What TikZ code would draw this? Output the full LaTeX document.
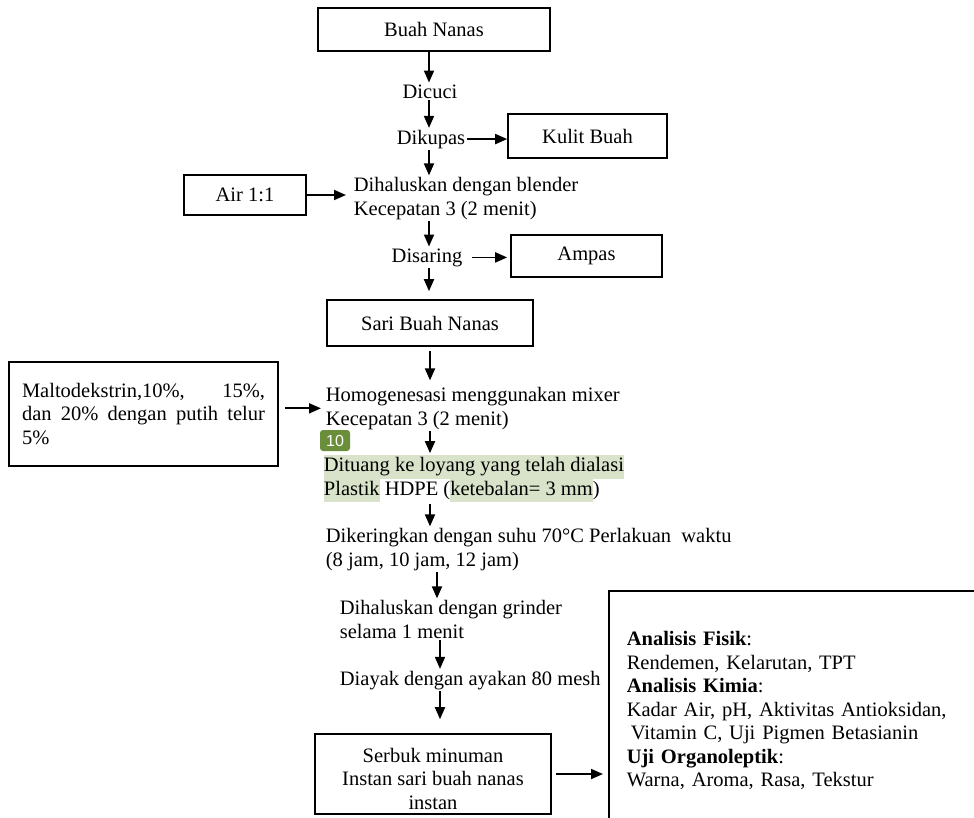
\documentclass[tikz,border=0pt]{standalone}
\usepackage{fontspec}
\setmainfont{Liberation Serif}
\setsansfont{Liberation Sans}
\usetikzlibrary{arrows.meta}
\definecolor{hilite}{HTML}{D9E3CA}
\definecolor{badgegreen}{HTML}{6B8E3A}
\newcommand{\hl}[1]{{\setlength{\fboxsep}{0pt}\colorbox{hilite}{\strut #1}}}

\begin{document}
\begin{tikzpicture}[x=1pt, y=-1pt, ->, >={Triangle[length=12pt,width=10pt]}, line width=1.8pt,
		font=\fontsize{20.5}{23.5}\selectfont]
		\tikzstyle{every node}=[inner sep=1pt]
		\tikzstyle{box}=[draw, line width=1.6pt, inner sep=0pt]
		\tikzstyle{proc}=[anchor=base west, align=left]
		\useasboundingbox (0,0) rectangle (974,817);
		\clip (0,0) rectangle (974,817);
		% columns of the vertical arrows
		\coordinate (c1) at (429,0);
		\coordinate (c2) at (430,0);
		\coordinate (c3) at (437,0);
		\coordinate (c4) at (440,0);

		% multi-line nodes sit on the baseline of their last line
		\node[box, minimum width=232pt, minimum height=43pt] (buah) at (434,29.5) {Buah Nanas};
		\node[anchor=base] (dicuci) at (430,98) {Dicuci};
		\node[anchor=base] (dikupas) at (431,144) {Dikupas};
		\node[box, minimum width=159pt, minimum height=44pt] (kulit) at (587.5,136) {Kulit Buah};
		\node[proc] (blender) at (352,215) {Dihaluskan dengan blender\\Kecepatan 3 (2 menit)};
		\node[box, minimum width=122pt, minimum height=40pt] (air) at (245,195) {Air 1:1};
		\node[anchor=base] (disaring) at (427,262) {Disaring};
		\node[box, minimum width=151pt, minimum height=42pt] (ampas) at (586.5,256) {\raisebox{-3pt}{Ampas}};
		\node[box, minimum width=206pt, minimum height=46pt] (sari) at (430,323) {Sari Buah Nanas};
		\node[proc] (mixer) at (324,425) {Homogenesasi menggunakan mixer\\Kecepatan 3 (2 menit)};
		\node[box, minimum width=269pt, minimum height=104pt, text width=243pt, align=left]
			(malto) at (143.5,414) {Maltodekstrin,10\%,\hfill 15\%,\\
			dan\hfill 20\%\hfill dengan\hfill putih\hfill telur\\
			5\%};
		\node[proc] (loyang) at (322,495) {\hl{Dituang ke loyang yang telah dialasi}\\
			\hl{Plastik} HDPE (\hl{ketebalan= 3 mm})};
		\node[fill=badgegreen, text=white, rounded corners=3pt, minimum width=30pt, minimum height=21pt,
			font=\sffamily\fontsize{16}{18}\selectfont] (nomor) at (335,440.5) {10};
		\node[proc] (kering) at (324,566) {Dikeringkan dengan suhu 70°C Perlakuan~ waktu\\(8 jam, 10 jam, 12 jam)};
		\node[proc] (grinder) at (338,638) {Dihaluskan dengan grinder\\selama 1 menit};
		\node[proc] (ayak) at (338,685) {Diayak dengan ayakan 80 mesh};
		\node[box, minimum width=236pt, minimum height=80pt] (serbuk) at (433,774) {};
		\node[anchor=base, align=center] (serbuktxt) at (433,809) {Serbuk minuman\\Instan sari buah nanas\\instan};
		\node[box, anchor=north west, minimum width=392pt, minimum height=240pt, text width=356pt,
			inner xsep=18pt, align=left] (analisis) at (608,590) {\textbf{Analisis Fisik}:\\
			Rendemen, Kelarutan, TPT\\
			\textbf{Analisis Kimia}:\\
			Kadar Air, pH, Aktivitas Antioksidan,\\
			\hspace*{4pt}Vitamin C, Uji Pigmen Betasianin\\
			\textbf{Uji Organoleptik}:\\
			Warna, Aroma, Rasa, Tekstur};

		\path (buah.south -| c1) edge (dicuci.north -| c1);
		\path (dicuci.south -| c1) edge (dikupas.north -| c1);
		\path (dikupas.east) edge (dikupas.east -| kulit.west);
		\path (dikupas.south -| c1) edge (blender.north -| c1);
		\path (air.east) edge[shorten >=6pt] (air.east -| blender.west);
		\path (blender.south -| c1) edge (disaring.north -| c1);
		\path (disaring.east) edge[shorten <=8pt, shorten >=3pt] (disaring.east -| ampas.west);
		\path (disaring.south -| c1) edge[shorten >=8pt] (sari.north -| c1);
		\path (sari.south -| c2) edge[shorten <=4pt, shorten >=5pt] (mixer.north -| c2);
		\path (mixer.west -| malto.east) edge[shorten <=6pt, shorten >=3pt] (mixer.west);
		\path (mixer.south -| c2) edge (loyang.north -| c2);
		\path (loyang.south -| c2) edge (kering.north -| c2);
		\path (kering.south -| c3) edge (grinder.north -| c3);
		\path (grinder.south -| c4) edge (ayak.north -| c4);
		\path (ayak.south -| c4) edge[shorten >=14pt] (serbuk.north -| c4);
		\path (serbuk.east) edge[shorten <=4pt, shorten >=5pt] (serbuk.east -| analisis.west);
	\end{tikzpicture}
\end{document}
